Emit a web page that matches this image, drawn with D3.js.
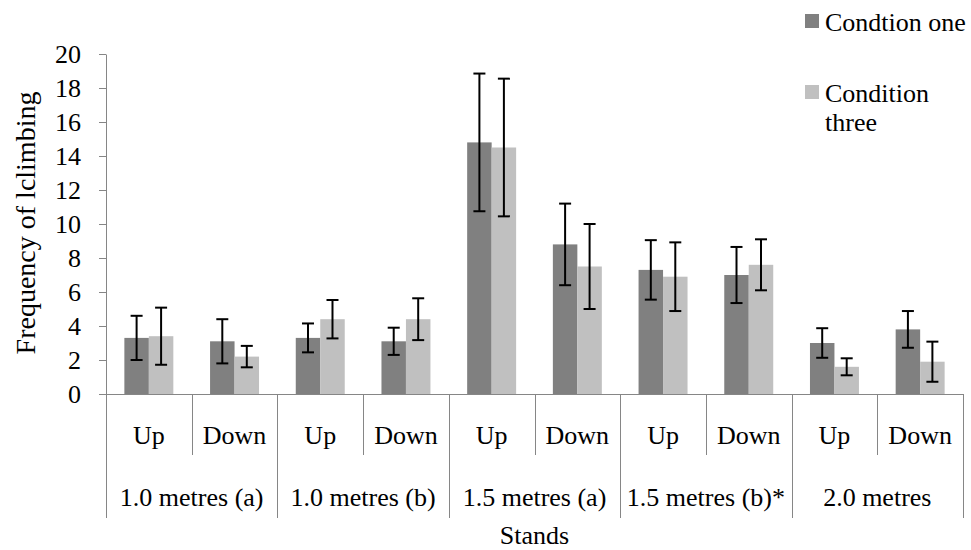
<!DOCTYPE html>
<html>
<head>
<meta charset="utf-8">
<script src="https://cdn.jsdelivr.net/npm/d3@7"></script>
<style>
  html, body { margin: 0; padding: 0; background: #ffffff; }
  svg { display: block; }
  svg text { font-family: "Liberation Serif", Tinos, "Times New Roman", Times, "DejaVu Serif", serif; }
</style>
</head>
<body>
<svg id="chart" width="971" height="550"></svg>
<script>
// Stands and climbing direction
const groups = ["1.0 metres (a)", "1.0 metres (b)", "1.5 metres (a)", "1.5 metres (b)*", "2.0 metres"];
const directions = ["Up", "Down"];

// Series names
const seriesNames = ["Condtion one", "Condition three"];

// Mean frequency per stand/direction (Up, Down for each stand)
const conditionOne = [3.3, 3.1, 3.3, 3.1, 14.8, 8.8, 7.3, 7.0, 3.0, 3.8];
const conditionThree = [3.4, 2.2, 4.4, 4.4, 14.5, 7.5, 6.9, 7.6, 1.6, 1.9];

// Error bar half-lengths
const conditionOneErr = [1.3, 1.3, 0.85, 0.8, 4.05, 2.4, 1.75, 1.65, 0.87, 1.08];
const conditionThreeErr = [1.68, 0.63, 1.13, 1.23, 4.05, 2.5, 2.02, 1.5, 0.5, 1.18];

// Y axis ticks
const yTicks = [0, 2, 4, 6, 8, 10, 12, 14, 16, 18, 20];

const colors = ["#808080", "#c0c0c0"];
const axisColor = "#868686";
const fontSize = 26;
const serif = '"Liberation Serif", Tinos, "Times New Roman", Times, "DejaVu Serif", serif';

const svg = d3.select("#chart").attr("font-family", serif);
const plot = { left: 106, right: 963, top: 54, bottom: 394 };

// Flattened categories: one per stand/direction pair
const categories = [];
groups.forEach((g, gi) => directions.forEach((d, di) => categories.push({ group: g, gi, dir: d, di, idx: gi * 2 + di })));

const x0 = d3.scaleBand()
  .domain(categories.map(c => c.idx))
  .range([plot.left, plot.right])
  .paddingInner(0).paddingOuter(0);

const bw = x0.bandwidth();
const barW = bw / 3.5;           // two bars plus a 150% gap
const gap = barW * 1.5;
const x1 = d3.scaleBand()
  .domain([0, 1])
  .range([gap / 2, bw - gap / 2])
  .padding(0);

const y = d3.scaleLinear().domain([0, 20]).range([plot.bottom, plot.top]);

const seriesValues = [conditionOne, conditionThree];
const seriesErrs = [conditionOneErr, conditionThreeErr];

// Bars
seriesValues.forEach((vals, si) => {
  svg.append("g")
    .selectAll("rect")
    .data(vals)
    .join("rect")
    .attr("x", (v, i) => x0(i) + x1(si))
    .attr("y", v => y(v))
    .attr("width", x1.bandwidth())
    .attr("height", v => y(0) - y(v))
    .attr("fill", colors[si]);
});

// Y axis
const yAxis = d3.axisLeft(y)
  .tickValues(yTicks)
  .tickSize(7)
  .tickPadding(18)
  .tickSizeOuter(0);

const yg = svg.append("g")
  .attr("transform", `translate(${plot.left},0)`)
  .call(yAxis)
  .attr("font-family", serif)
  .attr("font-size", fontSize);
yg.select(".domain").attr("stroke", axisColor).attr("stroke-width", 1);
yg.selectAll(".tick line").attr("stroke", axisColor).attr("stroke-width", 1);
yg.selectAll(".tick text").attr("fill", "#000");

// X axis baseline
const xg = svg.append("g").attr("font-size", fontSize);
xg.append("line")
  .attr("x1", plot.left).attr("x2", plot.right)
  .attr("y1", y(0) + 0.5).attr("y2", y(0) + 0.5)
  .attr("stroke", axisColor).attr("stroke-width", 1);

// Category dividers: short within a stand, long between stands
const boundaries = d3.range(categories.length + 1);
xg.selectAll("line.div")
  .data(boundaries)
  .join("line")
  .attr("class", "div")
  .attr("x1", i => Math.round(i === categories.length ? plot.right : x0(i)) + 0.5)
  .attr("x2", i => Math.round(i === categories.length ? plot.right : x0(i)) + 0.5)
  .attr("y1", y(0))
  .attr("y2", i => (i % 2 === 0 ? 518 : 455))
  .attr("stroke", axisColor).attr("stroke-width", 1);

// Direction labels
xg.selectAll("text.dir")
  .data(categories)
  .join("text")
  .attr("class", "dir")
  .attr("x", c => x0(c.idx) + bw / 2)
  .attr("y", 444)
  .attr("text-anchor", "middle")
  .text(c => c.dir);

// Stand labels
xg.selectAll("text.grp")
  .data(groups)
  .join("text")
  .attr("class", "grp")
  .attr("x", (g, gi) => x0(gi * 2) + bw)
  .attr("y", 506)
  .attr("text-anchor", "middle")
  .text(g => g);

// Error bars
const capHalf = 6;
seriesValues.forEach((vals, si) => {
  const eg = svg.append("g").attr("stroke", "#000").attr("stroke-width", 2);
  vals.forEach((v, i) => {
    const cx = x0(i) + x1(si) + x1.bandwidth() / 2;
    const e = seriesErrs[si][i];
    const yt = y(v + e), yb = y(v - e);
    eg.append("line").attr("x1", cx).attr("x2", cx).attr("y1", yt).attr("y2", yb);
    eg.append("line").attr("x1", cx - capHalf).attr("x2", cx + capHalf).attr("y1", yt).attr("y2", yt);
    eg.append("line").attr("x1", cx - capHalf).attr("x2", cx + capHalf).attr("y1", yb).attr("y2", yb);
  });
});

// Axis titles
svg.append("text")
  .attr("x", (plot.left + plot.right) / 2)
  .attr("y", 544)
  .attr("text-anchor", "middle")
  .attr("font-size", fontSize)
  .text("Stands");

svg.append("text")
  .attr("transform", `translate(35,${(plot.top + plot.bottom) / 2 - 1}) rotate(-90)`)
  .attr("text-anchor", "middle")
  .attr("font-size", 28)
  .text("Frequency of lclimbing");

// Legend
const legend = svg.append("g").attr("font-size", fontSize);
const legendItems = [
  { lines: ["Condtion one"], y: 14 },
  { lines: ["Condition", "three"], y: 85 }
];
legendItems.forEach((item, i) => {
  legend.append("rect")
    .attr("x", 805).attr("y", item.y)
    .attr("width", 14).attr("height", 14)
    .attr("fill", colors[i]);
  const t = legend.append("text")
    .attr("x", 825)
    .attr("y", item.y + 17);
  item.lines.forEach((ln, li) => {
    t.append("tspan")
      .attr("x", 825)
      .attr("dy", li === 0 ? 0 : 29)
      .text(ln);
  });
});
</script>
</body>
</html>
